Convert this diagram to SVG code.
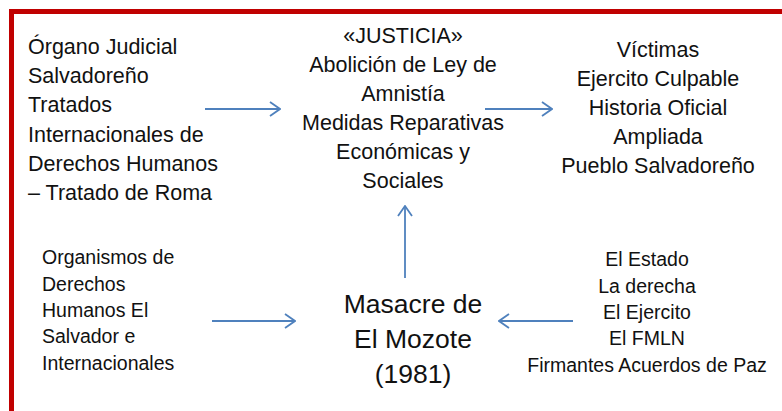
<svg xmlns="http://www.w3.org/2000/svg" width="782" height="411" viewBox="0 0 782 411">
<defs>
<style>
text{font-family:"Liberation Sans",Arial,sans-serif;fill:#111;}
.m{font-size:21.5px;}
.s{font-size:19.5px;}
.b{font-size:26.5px;}
.c{text-anchor:middle;}
.arr{stroke:#4F81BD;stroke-width:1.8;fill:none;marker-end:url(#ah);}
</style>
<marker id="ah" markerUnits="userSpaceOnUse" viewBox="0 0 12 16" refX="11" refY="8" markerWidth="12" markerHeight="16" orient="auto">
<path d="M1,1 L11,8 L1,15" fill="none" stroke="#4F81BD" stroke-width="1.8"/>
</marker>
</defs>
<rect width="782" height="411" fill="#fff"/>
<path d="M11.5,411 V11.5 H782" fill="none" stroke="#C00000" stroke-width="5"/>
<g id="connectors">
<line class="arr" x1="205" y1="109" x2="280" y2="109"/>
<line class="arr" x1="485" y1="109" x2="552" y2="109"/>
<line class="arr" x1="405" y1="278" x2="405" y2="206"/>
<line class="arr" x1="212" y1="321" x2="295" y2="321"/>
<line class="arr" x1="573" y1="321" x2="499" y2="321"/>
</g>
<g id="node-organo">
<text class="m" x="28" y="54">Órgano Judicial</text>
<text class="m" x="28" y="83">Salvadoreño</text>
<text class="m" x="28" y="112">Tratados</text>
<text class="m" x="28" y="142">Internacionales de</text>
<text class="m" x="28" y="171">Derechos Humanos</text>
<text class="m" x="28" y="200">– Tratado de Roma</text>
</g>
<g id="node-justicia">
<text class="m c" x="403" y="43">«JUSTICIA»</text>
<text class="m c" x="403" y="72">Abolición de Ley de</text>
<text class="m c" x="403" y="101">Amnistía</text>
<text class="m c" x="403" y="130">Medidas Reparativas</text>
<text class="m c" x="403" y="159">Económicas y</text>
<text class="m c" x="403" y="188">Sociales</text>
</g>
<g id="node-victimas">
<text class="m c" x="658" y="57">Víctimas</text>
<text class="m c" x="658" y="86">Ejercito Culpable</text>
<text class="m c" x="658" y="115">Historia Oficial</text>
<text class="m c" x="658" y="144">Ampliada</text>
<text class="m c" x="658" y="173">Pueblo Salvadoreño</text>
</g>
<g id="node-organismos">
<text class="s" x="42" y="264">Organismos de</text>
<text class="s" x="42" y="291">Derechos</text>
<text class="s" x="42" y="317">Humanos El</text>
<text class="s" x="42" y="343">Salvador e</text>
<text class="s" x="42" y="370">Internacionales</text>
</g>
<g id="node-mozote">
<text class="b c" x="413" y="313">Masacre de</text>
<text class="b c" x="413" y="348">El Mozote</text>
<text class="b c" x="413" y="383">(1981)</text>
</g>
<g id="node-estado">
<text class="s c" x="647" y="266">El Estado</text>
<text class="s c" x="647" y="293">La derecha</text>
<text class="s c" x="647" y="319">El Ejercito</text>
<text class="s c" x="647" y="345">El FMLN</text>
<text class="s c" x="647" y="372">Firmantes Acuerdos de Paz</text>
</g>
</svg>
